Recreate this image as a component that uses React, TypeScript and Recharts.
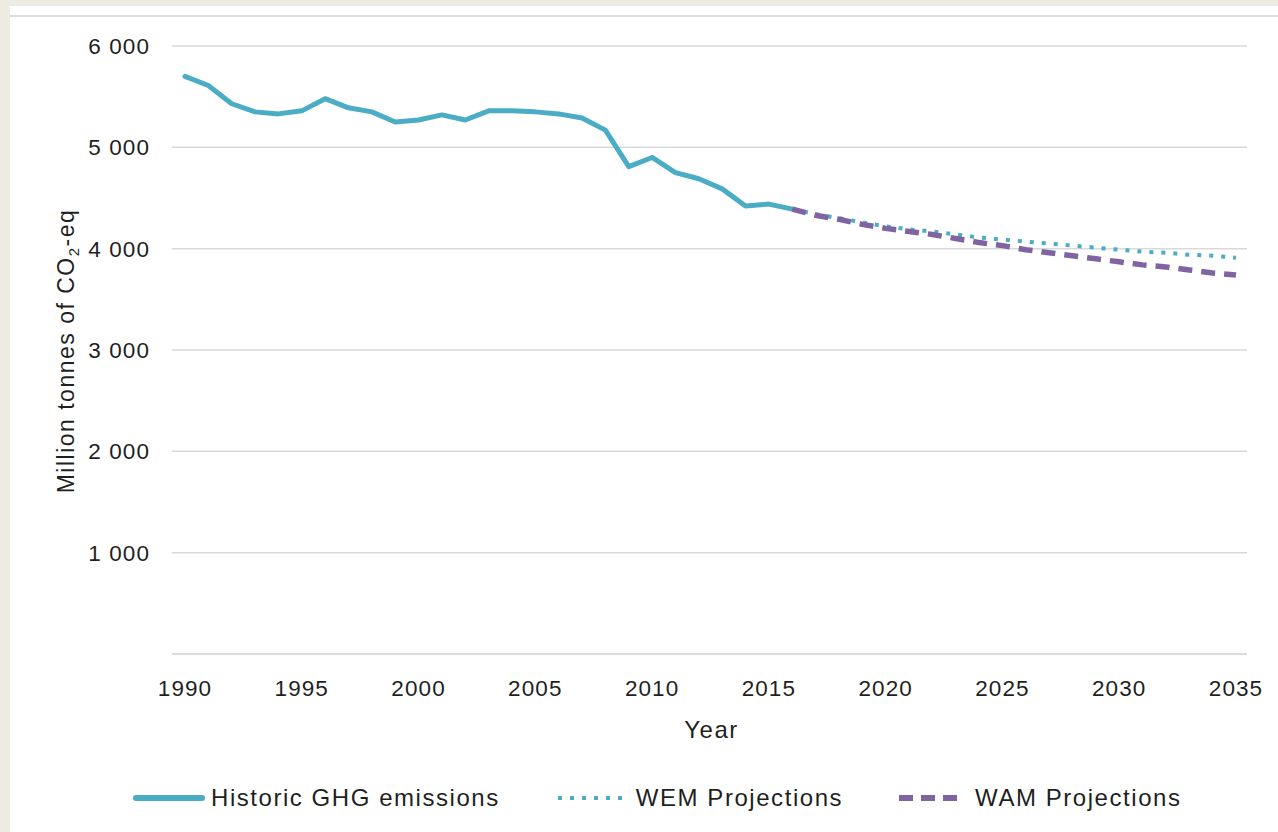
import React from 'react';
import { LineChart, Line, XAxis, YAxis, CartesianGrid, Legend } from 'recharts';

// historic inventory 1990-2016
const histYears = [1990, 1991, 1992, 1993, 1994, 1995, 1996, 1997, 1998, 1999, 2000, 2001, 2002, 2003, 2004, 2005, 2006, 2007, 2008, 2009, 2010, 2011, 2012, 2013, 2014, 2015, 2016];
const historic = [5700, 5610, 5430, 5350, 5330, 5360, 5480, 5390, 5350, 5250, 5270, 5320, 5270, 5360, 5360, 5350, 5330, 5290, 5170, 4810, 4900, 4750, 4690, 4590, 4420, 4440, 4390];

// projections 2016-2035
const projYears = [2016, 2017, 2018, 2019, 2020, 2021, 2022, 2023, 2024, 2025, 2026, 2027, 2028, 2029, 2030, 2031, 2032, 2033, 2034, 2035];
const wem = [4390, 4340, 4300, 4260, 4220, 4190, 4170, 4140, 4110, 4090, 4070, 4050, 4030, 4010, 3990, 3970, 3960, 3940, 3930, 3910];
const wam = [4390, 4330, 4290, 4240, 4200, 4170, 4140, 4100, 4060, 4030, 3990, 3960, 3930, 3900, 3870, 3840, 3820, 3790, 3760, 3740];

const xTicks = [1990, 1995, 2000, 2005, 2010, 2015, 2020, 2025, 2030, 2035];
const yTicks = [1000, 2000, 3000, 4000, 5000, 6000];

const TEAL = '#4bacc6';
const PURPLE = '#8064a2';
const TEXT = '#1f1f1f';
const FONT = '"Liberation Sans", Arial, sans-serif';

const allYears = Array.from(new Set([...histYears, ...projYears])).sort((a, b) => a - b);
const data = allYears.map(y => {
  const hi = histYears.indexOf(y);
  const pi = projYears.indexOf(y);
  return {
    year: y,
    historic: hi >= 0 ? historic[hi] : null,
    wem: pi >= 0 ? wem[pi] : null,
    wam: pi >= 0 ? wam[pi] : null,
  };
});

const fmt = (v: number) => v === 0 ? '0' : `${Math.floor(v / 1000)} ${String(v % 1000).padStart(3, '0')}`;

const legendItems = [
  { name: 'Historic GHG emissions', color: TEAL, dash: undefined, width: 6, cap: 'round', len: 72, gap: 6, after: 55 },
  { name: 'WEM Projections', color: TEAL, dash: '4 8', width: 4, cap: 'butt', len: 73, gap: 8, after: 53 },
  { name: 'WAM Projections', color: PURPLE, dash: '14 8', width: 6, cap: 'butt', len: 67, gap: 12, after: 0 },
];

const renderLegend = () => (
  <div style={{ display: 'flex', alignItems: 'center', height: 40, marginLeft: 123, fontFamily: FONT, fontSize: 24, letterSpacing: 1.55, color: TEXT }}>
    {legendItems.map(it => (
      <div key={it.name} style={{ display: 'flex', alignItems: 'center', marginRight: it.after }}>
        <svg width={it.len} height={12} style={{ marginRight: it.gap }}>
          <line x1={3} y1={6} x2={it.len - 3} y2={6} stroke={it.color} strokeWidth={it.width} strokeDasharray={it.dash} strokeLinecap={it.cap as any} />
        </svg>
        <span>{it.name}</span>
      </div>
    ))}
  </div>
);

const YLabel = (props: any) => {
  const vb = props.viewBox;
  const cx = 64;
  const cy = vb.y + vb.height / 2 + 1;
  return (
    <text x={cx} y={cy} transform={`rotate(-90, ${cx}, ${cy})`} textAnchor="middle" fontFamily={FONT} fontSize={23} letterSpacing={1.5} fill={TEXT}>
      Million tonnes of CO<tspan fontSize={15} dy={5}>2</tspan><tspan dy={-5}>-eq</tspan>
    </text>
  );
};

const XLabel = (props: any) => {
  const vb = props.viewBox;
  return (
    <text x={vb.x + vb.width / 2 + 2} y={vb.y + 84} textAnchor="middle" fontFamily={FONT} fontSize={24} letterSpacing={1.5} fill={TEXT}>
      Year
    </text>
  );
};

export default function App() {
  return (
    <div style={{ position: 'absolute', left: 0, top: 0, width: 1278, height: 832, background: '#eeebe3', overflow: 'hidden' }}>
      <div style={{ position: 'absolute', left: 10, top: 6, width: 1268, height: 826, background: '#fff' }}>
        <div style={{ position: 'absolute', left: 0, top: 9, width: 1268, height: 2, background: '#dcdcdc' }} />
        <LineChart width={1268} height={826} data={data} margin={{ top: 40, right: 31, left: 62, bottom: 58 }}>
          <CartesianGrid vertical={false} stroke="#d9d9d9" strokeWidth={1.5} />
          <XAxis
            dataKey="year"
            type="number"
            domain={[1990, 2035]}
            ticks={xTicks}
            padding={{ left: 13, right: 11 }}
            height={80}
            tickLine={false}
            tickMargin={20}
            axisLine={{ stroke: '#d9d9d9', strokeWidth: 1.5 }}
            tick={{ fill: TEXT, fontSize: 22.5, fontFamily: FONT, letterSpacing: 1.1 }}
            label={<XLabel />}
          />
          <YAxis
            domain={[0, 6000]}
            ticks={yTicks}
            width={100}
            axisLine={false}
            tickLine={false}
            tickMargin={16}
            tickFormatter={fmt}
            tick={{ fill: TEXT, fontSize: 22.5, fontFamily: FONT, letterSpacing: 1.1 }}
            label={<YLabel />}
          />
          <Legend verticalAlign="bottom" content={renderLegend} wrapperStyle={{ top: 772, left: 0, width: 1268, height: 40 }} />
          <Line dataKey="historic" name="Historic GHG emissions" stroke={TEAL} strokeWidth={5} dot={false} strokeLinejoin="round" strokeLinecap="round" isAnimationActive={false} />
          <Line dataKey="wem" name="WEM Projections" stroke={TEAL} strokeWidth={4} strokeDasharray="4 8" dot={false} isAnimationActive={false} />
          <Line dataKey="wam" name="WAM Projections" stroke={PURPLE} strokeWidth={5.5} strokeDasharray="14 9" dot={false} isAnimationActive={false} />
        </LineChart>
      </div>
    </div>
  );
}
